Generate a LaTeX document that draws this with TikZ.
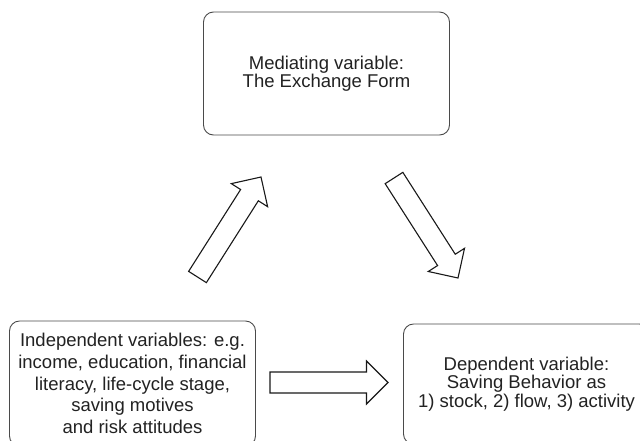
\documentclass[tikz,border=0pt]{standalone}
\usepackage{fontspec}
\setmainfont{Liberation Sans}
\usepackage{xcolor}
\usepackage{tikz}
\usetikzlibrary{positioning, calc}
\definecolor{boxline}{HTML}{4A4A4A}
\definecolor{boxtext}{HTML}{222222}
\tikzstyle{block} = [rectangle, draw=boxline, line width=0.9pt, text=boxtext,
    align=center, rounded corners=10pt, inner sep=0pt, minimum width=246pt]
\tikzstyle{hollow} = [draw=black!90, line width=1.1pt, fill=white, line join=miter]

% hollow block arrow from #1 to #2
\newcommand{\blockarrow}[2]{%
  \coordinate (hb) at ($(#2)!21.5pt!(#1)$);
  \draw[hollow] ($(#1)!10.5pt!-90:(#2)$) -- ($(hb)!10.5pt!-90:(#2)$)
    -- ($(hb)!21.5pt!-90:(#2)$) -- (#2) -- ($(hb)!21.5pt!90:(#2)$)
    -- ($(hb)!10.5pt!90:(#2)$) -- ($(#1)!10.5pt!90:(#2)$) -- cycle;}

\begin{document}
\begin{tikzpicture}[x=1pt, y=-1pt, node distance=394pt]
      \clip (0,0) rectangle (640,440);
      \fill[white] (0,0) rectangle (640,440);

      % Place nodes
      \node [block, minimum height=123pt, font=\fontsize{18.5}{16.7}\selectfont]
        (med) at (326.5,73.5) {Mediating variable:\\The Exchange Form};
      \node [block, minimum height=125pt, font=\fontsize{18.5}{21.7}\selectfont]
        (indep) at (132.5,383.5) {Independent variables: e.g.\\income, education, financial\\literacy, life-cycle stage,\\saving motives\\and risk attitudes};
      \node [block, right of=indep, yshift=-0.5pt, minimum height=120pt,
        font=\fontsize{18.5}{18.7}\selectfont]
        (dep) {Dependent variable:\\Saving Behavior as\\1) stock, 2) flow, 3) activity};

      % Arrow ends
      \coordinate (upfrom) at (197.5,277);
      \coordinate (upto) at (261,177);
      \coordinate (downfrom) at (394,178);
      \coordinate (downto) at (458,278);
      \coordinate (rightfrom) at (270,382.5);
      \coordinate (rightto) at (388,382.5);

      \blockarrow{upfrom}{upto}
      \blockarrow{downfrom}{downto}
      \blockarrow{rightfrom}{rightto}
\end{tikzpicture}
\end{document}
